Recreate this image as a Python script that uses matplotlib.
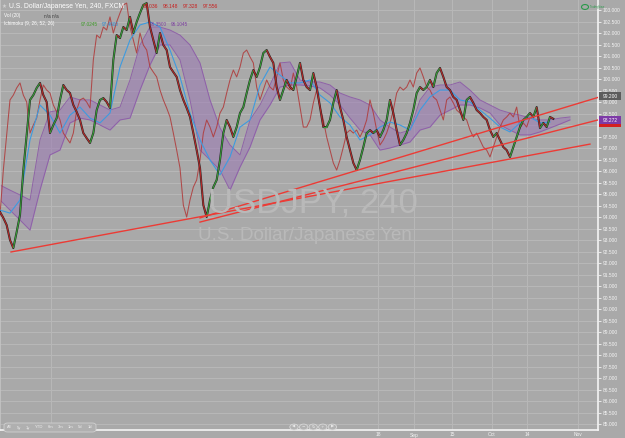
import numpy as np
import matplotlib
matplotlib.use("Agg")
import matplotlib.pyplot as plt
from matplotlib.collections import LineCollection
from matplotlib.patches import FancyBboxPatch, Circle, Rectangle

# ---------------- data ----------------
# 240-min closes, one sample per chart step (bar index)
close = [94.22, 93.96, 93.65, 93.00, 92.65, 93.35, 94.09, 96.04, 97.57, 99.09,
         99.30, 99.61, 99.83, 99.30, 99.00, 97.65, 98.00, 98.30, 99.09, 99.74,
         99.52, 99.39, 98.87, 98.57, 98.22, 97.65, 97.43, 97.22, 97.65, 98.65,
         99.09, 99.17, 99.00, 98.74, 100.83, 101.91, 101.78, 102.26, 102.13, 102.70,
         102.00, 102.48, 102.87, 103.22, 103.30, 102.26, 101.70, 101.13, 102.00, 101.48,
         101.26, 100.52, 100.30, 100.09, 99.52, 99.09, 98.74, 98.35, 97.65, 96.91,
         96.13, 94.52, 94.00, 94.74, 95.30, 95.61, 96.48, 97.65, 98.22, 97.91,
         97.48, 97.91, 98.52, 98.78, 99.39, 99.96, 100.39, 100.09, 100.52, 101.13,
         101.26, 100.96, 100.70, 99.65, 99.09, 99.52, 99.96, 99.65, 99.52, 100.09,
         100.70, 99.96, 99.65, 99.52, 100.26, 99.65, 98.78, 97.91, 97.91, 98.22,
         98.96, 99.52, 98.78, 98.22, 97.48, 96.91, 96.35, 96.04, 96.48, 97.04,
         97.65, 97.78, 97.65, 97.78, 97.48, 97.78, 98.22, 99.09, 98.52, 97.78,
         97.13, 97.35, 97.65, 98.09, 98.65, 99.39, 99.65, 99.52, 99.65, 99.96,
         99.65, 100.26, 100.48, 100.09, 99.65, 99.52, 99.22, 99.09, 98.65, 98.22,
         99.09, 99.22, 98.96, 98.65, 98.52, 98.35, 98.22, 97.78, 97.48, 97.65,
         97.35, 97.04, 96.91, 96.61, 97.04, 97.48, 97.91, 98.22, 98.35, 98.52,
         98.35, 98.78, 97.87, 98.09, 97.91, 98.35, 98.27]

# Ichimoku cloud edges (sampled every 3 bars)
senkou_a = [95.39, 95.17, 94.96, 94.74, 97.35, 98.57, 98.65, 99.22, 99.09, 99.09,
            98.87, 98.65, 98.78, 99.96, 101.48, 102.26, 102.26, 102.13, 101.91, 101.48,
            100.70, 99.09, 97.87, 97.13, 96.70, 98.22, 98.87, 99.74, 100.70, 100.74,
            99.96, 99.87, 99.87, 99.74, 99.39, 99.22, 99.09, 98.87, 98.22, 97.91,
            97.65, 97.78, 99.09, 99.65, 99.74, 99.74, 99.87, 99.52, 99.09, 98.87,
            98.65, 98.52, 98.43, 98.30, 98.22, 98.22, 98.30, 98.35]
senkou_b = [94.74, 94.30, 93.87, 93.43, 95.17, 96.70, 96.91, 98.09, 98.30, 98.22,
            98.00, 97.78, 98.22, 98.30, 99.52, 100.61, 101.48, 101.48, 100.83, 99.09,
            96.91, 96.48, 96.04, 95.17, 96.17, 97.04, 98.22, 98.87, 99.65, 99.74,
            99.74, 99.70, 99.61, 99.30, 98.87, 98.30, 97.78, 97.57, 96.91, 97.00,
            97.13, 97.26, 97.78, 97.91, 98.43, 98.65, 98.87, 98.87, 98.74, 98.52,
            98.00, 97.78, 97.57, 97.57, 97.70, 97.87, 98.04, 98.22]

# Kijun line (sampled every 3 bars)
kijun = [94.30, 94.17, 94.74, 97.35, 98.87, 98.43, 97.65, 98.43, 98.78, 98.30,
         98.09, 98.52, 100.52, 101.70, 102.35, 102.48, 102.26, 101.26, 100.09, 98.52,
         97.35, 96.48, 95.83, 96.61, 97.91, 98.22, 99.74, 100.52, 100.17, 99.83,
         99.83, 99.96, 99.30, 98.96, 98.35, 98.00, 97.35, 97.57, 97.91, 98.13,
         98.00, 97.78, 98.65, 99.22, 99.52, 99.52, 99.09, 99.00, 98.65, 98.30,
         97.91, 97.70, 98.09, 98.35, 98.09, 98.13]

CHIKOU_SHIFT = 6   # lagging span, bars back

# drawn trend lines: (bar, price) anchors
trend_start = [(3.3, 92.48), (60.0, 93.96), (60.0, 93.78)]
trend_end = [(177.0, 97.17), (179.4, 99.20), (179.4, 98.22)]

date_tick_bars = [15.3, 113.4, 124.2, 135.6, 147.6, 158.1, 173.4]
date_labels = ["", "18", "Sep", "15", "Oct", "14", "Nov"]
price_ticks = np.arange(85.0, 103.01, 0.5)

header_prices = ["98.036", "98.148", "97.328", "97.556"]
ichimoku_vals = ["97.0245", "97.4600", "96.3500", "96.1045"]

# ---------------- figure ----------------
W, H = 625, 438
BG = "#a9a9a9"
FAM = "Liberation Sans"
fig = plt.figure(figsize=(W / 100, H / 100), dpi=100)
fig.patch.set_facecolor(BG)

AX_W, AX_H = 598, 430
ax = fig.add_axes([0, (H - AX_H) / H, AX_W / W, AX_H / H])
ax.set_facecolor(BG)
ax.set_xlim(0, 179.4)
ax.set_ylim(84.74, 103.435)


def P(x, y):
    return x / W, 1 - y / H


# grid
ax.set_yticks(price_ticks)
ax.set_yticklabels(["%.3f" % v for v in price_ticks], family=FAM)
ax.set_xticks(date_tick_bars)
ax.set_xticklabels(date_labels, family=FAM)
ax.grid(True, color="#b7b7b7", lw=0.8, zorder=0)
ax.set_axisbelow(True)
ax.yaxis.tick_right()
ax.tick_params(axis="y", labelsize=3.5, colors="#f4f4f4", length=2, width=0.6, pad=1.5)
ax.tick_params(axis="x", labelsize=3.5, colors="#f4f4f4", length=0, pad=1.8)
ax.spines["top"].set_visible(False)
ax.spines["left"].set_color("#c4c4c4")
ax.spines["left"].set_linewidth(1.2)
ax.spines["right"].set_color("#f4f4f4")
ax.spines["right"].set_linewidth(1.2)
ax.spines["bottom"].set_color("#f4f4f4")
ax.spines["bottom"].set_linewidth(1.2)

# watermark
fig.text(*P(313, 203), "USDJPY, 240", fontsize=25, color="#b9b9b9",
         ha="center", va="center", family=FAM, zorder=0.5)
fig.text(*P(305, 236), "U.S. Dollar/Japanese Yen", fontsize=13.5, color="#b9b9b9",
         ha="center", va="center", family=FAM, zorder=0.5)
ax.patch.set_alpha(0)

# cloud
cx = np.arange(len(senkou_a)) * 3
ax.fill_between(cx, senkou_a, senkou_b, color="#9b78b4", alpha=0.55, lw=0, zorder=2)
ax.plot(cx, senkou_a, color="#8c5aa8", lw=0.7, alpha=0.9, zorder=2.2)
ax.plot(cx, senkou_b, color="#8c5aa8", lw=0.7, alpha=0.9, zorder=2.2)

# chikou (lagging close)
idx = np.arange(len(close))
ax.plot(idx - CHIKOU_SHIFT, close, color="#b03838", lw=0.75, alpha=0.85, zorder=3)

# kijun
kx = np.arange(len(kijun)) * 3
ax.plot(kx, kijun, color="#3d9be0", lw=0.8, zorder=3.5)

# price: dark mass with up/down colouring
carr = np.array(close)
ax.plot(idx, carr, color="#1a1a1a", lw=1.5, alpha=0.9, zorder=4)
segs = [[(i, carr[i]), (i + 1, carr[i + 1])] for i in range(len(carr) - 1)]
cols = ["#38a038" if carr[i + 1] >= carr[i] else "#b82828" for i in range(len(carr) - 1)]
ax.add_collection(LineCollection(segs, colors=cols, linewidths=0.8, zorder=4.5))

# trend lines
for (x0, y0), (x1, y1) in zip(trend_start, trend_end):
    ax.plot([x0, x1], [y0, y1], color="#ec3b35", lw=1.0, zorder=5)

# ---------------- header texts ----------------
fig.text(*P(2, 6), "\u2605", fontsize=4, color="#cfcfcf", va="center", family="DejaVu Sans")
fig.text(*P(9, 6), "U.S. Dollar/Japanese Yen, 240, FXCM", fontsize=4.9,
         color="white", va="center", family=FAM)
hx = [143, 163, 183, 203]
for x, s in zip(hx, header_prices):
    fig.text(*P(x, 6), s, fontsize=3.6, color="#c8201e", va="center", family=FAM)
fig.text(*P(4, 16), "Vol (20)", fontsize=3.4, color="white", va="center", family=FAM)
fig.text(*P(44, 16), "n/a n/a", fontsize=3.4, color="#3a3a3a", va="center", family=FAM)
fig.text(*P(4, 24), "Ichimoku (9, 26, 52, 26)", fontsize=3.4, color="white", va="center",
         family=FAM)
ivx = [81, 102, 150, 171]
ivc = ["#3f9a2a", "#2f88d0", "#7c3fa0", "#7c3fa0"]
for x, s, c in zip(ivx, ichimoku_vals, ivc):
    fig.text(*P(x, 24), s, fontsize=3.4, color=c, va="center", family=FAM)

# right-side price labels
def tag(y, text, fc, h=7):
    fig.patches.append(Rectangle(P(599, y + h / 2), 22 / W, h / H, transform=fig.transFigure,
                                 facecolor=fc, edgecolor="none", zorder=10))
    fig.text(*P(610, y), text, fontsize=3.5, color="white", ha="center", va="center",
             zorder=11, family=FAM)

tag(96, "99.200", "#5c5c5c")
fig.patches.append(Rectangle(P(599, 127), 22 / W, 3 / H, transform=fig.transFigure,
                             facecolor="#d42020", edgecolor="none", zorder=10))
tag(120, "98.272", "#7d3aa6", h=8)

# logo
fig.patches.append(Circle(P(585, 7), 3.5 / W, transform=fig.transFigure, facecolor="none",
                          edgecolor="#2a9a4a", lw=0.8, zorder=10))
fig.text(*P(589.5, 7), "TradingView", fontsize=1.9, color="#2a9a4a", va="center",
         zorder=10, family=FAM)

# bottom-left range buttons
fig.patches.append(FancyBboxPatch(P(4, 432), 92 / W, 9 / H, transform=fig.transFigure,
                                  boxstyle="round,pad=0,rounding_size=0.006",
                                  facecolor="#b0b0b0", edgecolor="#d0d0d0", lw=0.6, zorder=10))
btns = ["All", "5y", "1y", "YTD", "6m", "3m", "1m", "5d", "1d"]
bx = [9, 19, 28, 39, 51, 61, 71, 80, 90]
for x, s in zip(bx, btns):
    fig.text(*P(x, 427.5), s, fontsize=3.0, color="#eeeeee", ha="center", va="center",
             zorder=11, family=FAM)

# bottom nav buttons
navs = ["\u25C0", "\u2212", "\u21BB", "+", "\u25B6"]
for k, s in enumerate(navs):
    cxp = 294 + k * 9.6
    fig.patches.append(Circle(P(cxp, 427), 4.2 / W, transform=fig.transFigure,
                              facecolor="#b2b2b2", edgecolor="#d8d8d8", lw=0.6, zorder=10))
    fig.text(*P(cxp, 427), s, fontsize=3.0, color="#e8e8e8", ha="center", va="center",
             zorder=11, family="DejaVu Sans")

fig.savefig("out.png", dpi=100, facecolor=BG)
